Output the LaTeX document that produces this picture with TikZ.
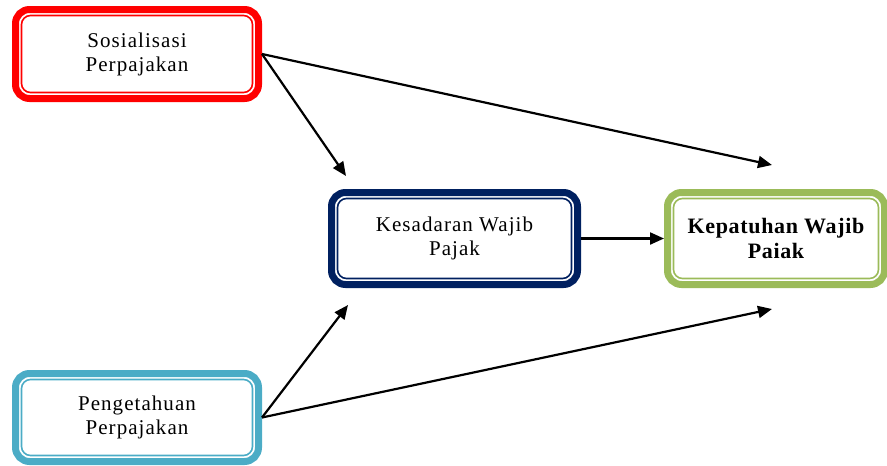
\documentclass[tikz,border=0pt]{standalone}
\usepackage{fontspec}
\setmainfont{Liberation Serif}
\usetikzlibrary{arrows.meta}
\definecolor{sosRed}{HTML}{FF0000}
\definecolor{kesNavy}{HTML}{002060}
\definecolor{patGreen}{HTML}{9BBB59}
\definecolor{pengTeal}{HTML}{4BACC6}
\tikzset{
  varbox/.style={draw=#1, line width=7pt, rounded corners=14pt, align=center,
    font=\fontsize{21}{24}\selectfont\addfontfeature{LetterSpace=5},
    path picture={\draw[#1, line width=1.6pt, rounded corners=9pt]
      ([shift={(6pt,-6pt)}]path picture bounding box.north west) rectangle
      ([shift={(-6pt,6pt)}]path picture bounding box.south east);}},
}

\begin{document}
\begin{tikzpicture}[x=1pt,y=-1pt,>={Triangle[length=14pt,width=12pt]},line width=2.2pt]
\useasboundingbox (0,0) rectangle (887,466);
\node (sos) [varbox=sosRed, minimum width=243pt, minimum height=89pt] at (137,54)
{Sosialisasi\\Perpajakan};
\node (kes) [varbox=kesNavy, minimum width=246pt, minimum height=92pt] at (454.5,238.5)
{Kesadaran Wajib\\Pajak};
\node (pat) [varbox=patGreen, minimum width=217pt, minimum height=92pt,
  font=\fontsize{22}{25}\selectfont\bfseries\addfontfeature{LetterSpace=3}] at (776,238.5)
{Kepatuhan Wajib\\Paiak};
\node (peng) [varbox=pengTeal, minimum width=243pt, minimum height=88pt] at (137,417.5)
{Pengetahuan\\Perpajakan};

\coordinate (kesTop) at (346,176);
\coordinate (kesBot) at (348,305);
\coordinate (patTop) at (772,165);
\coordinate (patBot) at (772,309);

\draw[->] (sos.east) -- (kesTop);
\draw[->] (sos.east) -- (patTop);
\draw[->] (peng.east) -- (kesBot);
\draw[->] (peng.east) -- (patBot);
\draw[->] (kes) -- (pat);
\end{tikzpicture}
\end{document}
